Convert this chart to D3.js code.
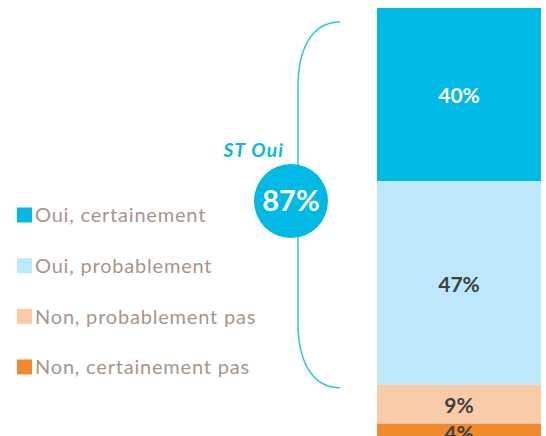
<!DOCTYPE html>
<html>
<head>
<meta charset="utf-8">
<script src="https://cdn.jsdelivr.net/npm/d3@7"></script>
<style>
  body { margin: 0; background: #fff; }
  svg { display: block; font-family: Lato, "Open Sans", sans-serif; }
</style>
</head>
<body>
<svg id="chart" width="546" height="436"></svg>
<script>
// data
const categories = ['Oui, certainement', 'Oui, probablement', 'Non, probablement pas', 'Non, certainement pas'];
const values = [40, 47, 9, 4];
const labels = ['40%', '47%', '9%', '4%'];
const colors = ['#00b9e4', '#bde8fc', '#f8cca8', '#ef8a2d'];
const labelColors = ['#ffffff', '#404040', '#404040', '#404040'];
const subtotalLabel = 'ST Oui';
const subtotalValue = '87%';

const svg = d3.select('#chart');

const bar = { x0: 377, x1: 541, top: 8 };

const y = d3.scaleLinear()
  .domain([0, 100])
  .range([bar.top, bar.top + 433]);

// stack
let acc = 0;
const segs = values.map((v, i) => {
  const s = { i, from: acc, to: acc + v };
  acc += v;
  return s;
});

const g = svg.append('g');

g.selectAll('rect.seg')
  .data(segs)
  .enter().append('rect')
  .attr('class', 'seg')
  .attr('x', bar.x0)
  .attr('width', bar.x1 - bar.x0)
  .attr('y', d => y(d.from))
  .attr('height', d => y(d.to) - y(d.from))
  .attr('fill', d => colors[d.i]);

g.selectAll('text.seg')
  .data(segs)
  .enter().append('text')
  .attr('x', (bar.x0 + bar.x1) / 2)
  .attr('y', d => (y(d.from) + y(d.to)) / 2 + 1)
  .attr('dy', '0.36em')
  .attr('text-anchor', 'middle')
  .attr('font-size', 21)
  .attr('font-weight', 'bold')
  .attr('fill', d => labelColors[d.i])
  .text(d => labels[d.i]);

// brace over the "oui" part
const yesTotal = values[0] + values[1];
const bx = 298, hx = 340;
const bTop = y(0) + 14, bBot = y(yesTotal) + 3;
const brace = d3.path();
brace.moveTo(hx, bTop);
brace.bezierCurveTo(310, bTop, bx, bTop + 30, bx, bTop + 65);
brace.lineTo(bx, bBot - 65);
brace.bezierCurveTo(bx, bBot - 30, 310, bBot, hx, bBot);

svg.append('path')
  .attr('d', brace.toString())
  .attr('fill', 'none')
  .attr('stroke', '#2cc3e8')
  .attr('stroke-width', 1.5);

const cx = 291, cy = 201;
svg.append('circle')
  .attr('cx', cx)
  .attr('cy', cy)
  .attr('r', 37)
  .attr('fill', '#00b9e4');

svg.append('text')
  .attr('x', cx)
  .attr('y', cy)
  .attr('dy', '0.36em')
  .attr('text-anchor', 'middle')
  .attr('font-size', 29)
  .attr('font-weight', 'bold')
  .attr('fill', '#fff')
  .text(subtotalValue);

svg.append('text')
  .attr('x', 284)
  .attr('y', 157)
  .attr('text-anchor', 'end')
  .attr('font-size', 19)
  .attr('font-weight', 'bold')
  .attr('font-style', 'italic')
  .attr('letter-spacing', 1.2)
  .attr('fill', '#00b9e4')
  .text(subtotalLabel);

// legend
const legend = svg.append('g')
  .attr('transform', 'translate(17,0)');

const rowY = d3.scalePoint()
  .domain(categories)
  .range([215, 367]);

const item = legend.selectAll('g')
  .data(categories)
  .enter().append('g')
  .attr('transform', d => 'translate(0,' + rowY(d) + ')');

item.append('rect')
  .attr('x', 0)
  .attr('y', -7.5)
  .attr('width', 15)
  .attr('height', 15)
  .attr('fill', (d, i) => colors[i]);

item.append('text')
  .attr('x', 18)
  .attr('dy', '0.36em')
  .attr('font-size', 20)
  .attr('letter-spacing', 0.8)
  .attr('fill', '#a6968a')
  .text(d => d);
</script>
</body>
</html>
